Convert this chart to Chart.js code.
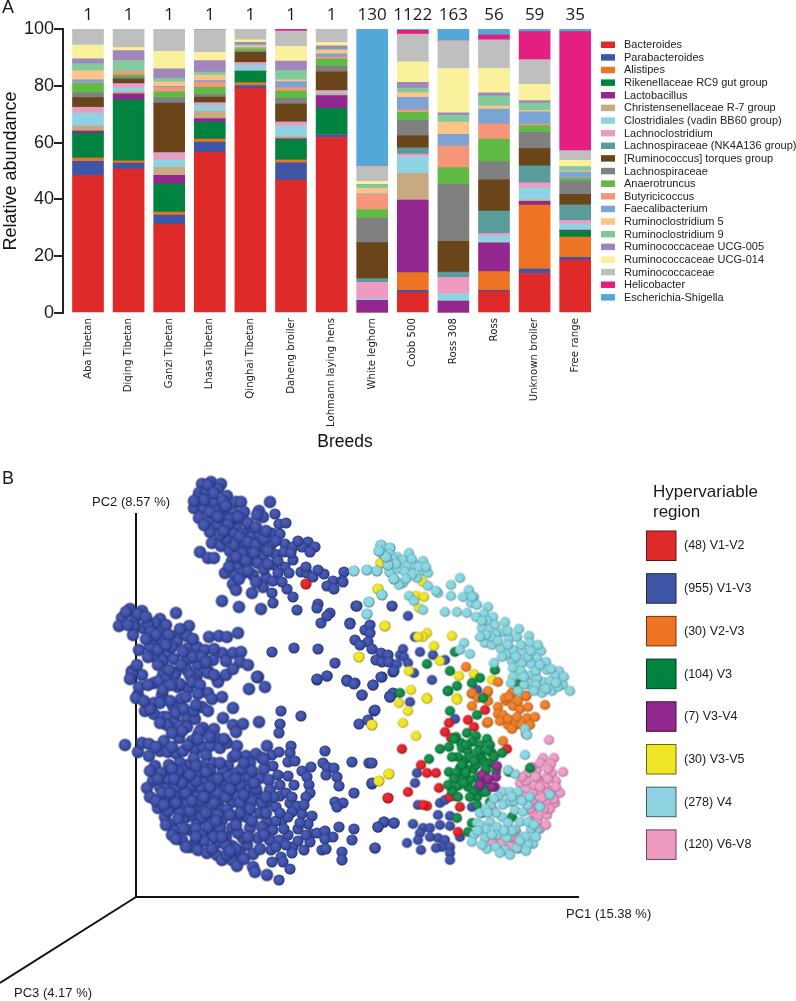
<!DOCTYPE html>
<html><head><meta charset="utf-8">
<style>html,body{margin:0;padding:0;background:#fff}canvas{position:absolute;left:0}#a{top:0}#b{top:470px}</style>
<script src="https://cdn.jsdelivr.net/npm/chart.js@4/dist/chart.umd.min.js"></script>
</head><body>
<canvas id="a" width="796" height="470"></canvas>
<canvas id="b" width="796" height="531"></canvas>
<script>
// ---------- Panel A ----------
const breeds=["Aba Tibetan","Diqing Tibetan","Ganzi Tibetan","Lhasa Tibetan","Qinghai Tibetan","Daheng broiler","Lohmann laying hens","White leghorn","Cobb 500","Ross 308","Ross","Unknown broiler","Free range"];
const counts=[1,1,1,1,1,1,1,130,1122,163,56,59,35];
const Bacteroides=[48.4,50.7,31.2,56.6,79.1,46.8,61.8,0,7.2,0,7.6,13.9,18.7];
const Parabacteroides=[5,2.1,3.3,3.6,1,6.1,.9,0,.8,0,.4,1.6,.9];
const Alistipes=[1.2,.8,1,1,1,1,.1,0,6.2,0,6.6,22.5,7.1];
const RikenellaceaeRC9=[8.7,21.5,9.9,6,4,7.2,9.3,0,0,0,0,0,2.2];
const Lactobacillus=[.8,2.1,3.1,1.3,.1,.3,4.5,4.5,25.6,4.2,10.1,1.3,.3];
const ChristensenellaceaeR7=[1.8,.7,2.8,2.6,.2,.7,.6,0,9.4,0,0,.5,0];
const ClostridialesBB60=[4.5,1.4,2.6,2,1.9,3.8,.4,.5,5.9,2.6,2.5,4.3,2.2];
const Lachnoclostridium=[2,1.4,2.5,.9,.9,1.3,.7,5.8,.9,5.7,.8,1.7,1.2];
const LachnospiraceaeNK=[.1,.1,.2,.1,.1,.1,.1,1.3,2.2,1.9,7.9,6,5.5];
const RuminococcusTorques=[3.4,1.6,17.3,1.9,3.5,6.3,6.5,12.7,4.3,10.8,11,6.1,3.7];
const Lachnospiraceae=[1.6,.7,1.9,1,.4,2,2,8.6,5.3,20.1,6.4,5.7,4.7];
const Anaerotruncus=[3.4,.8,2.1,2.5,.8,2.6,2.5,3,2.9,5.9,7.9,2.4,.9];
const Butyricicoccus=[.2,1,1.6,1.8,.3,1.1,.7,5.4,.8,7.7,5.4,.5,.2];
const Faecalibacterium=[1,.1,.3,.5,.2,2.2,1.2,.2,4.4,4,5.2,4.3,2];
const Ruminoclostridium5=[3.2,.2,1.6,2,.6,.6,1.2,1.9,1.7,4.3,1.1,.6,.4];
const Ruminoclostridium9=[2.5,3.7,1.2,1,.4,3.3,.4,1.3,1.6,2.4,3.5,2.5,1.4];
const UCG005=[1.7,3.5,3.4,4.1,.8,3.3,1.2,.1,2,.9,1.1,.9,.1];
const UCG014=[4.9,1.1,6.1,2.9,.9,5.2,1.2,1.1,7.2,15.6,8.6,5.7,2.3];
const Ruminococcaceae=[5.6,6.5,7.9,8,3.8,5.4,4.7,5.3,9.8,9.8,10.1,8.7,3.4];
const Helicobacter=[0,0,0,.2,0,.7,0,0,1.3,0,1.7,9.9,41.9];
const Escherichia=[0,0,0,0,0,0,0,48.3,.5,4.1,2.1,.9,.9];
const genera=[
["Bacteroides",Bacteroides,"#DE2A28"],["Parabacteroides",Parabacteroides,"#3F56A6"],["Alistipes",Alistipes,"#EE7322"],
["Rikenellaceae RC9 gut group",RikenellaceaeRC9,"#00833F"],["Lactobacillus",Lactobacillus,"#92278F"],
["Christensenellaceae R-7 group",ChristensenellaceaeR7,"#C9A982"],["Clostridiales (vadin BB60 group)",ClostridialesBB60,"#8FD3E2"],
["Lachnoclostridium",Lachnoclostridium,"#EF9AC1"],["Lachnospiraceae (NK4A136 group)",LachnospiraceaeNK,"#5A9C9C"],
["[Ruminococcus] torques group",RuminococcusTorques,"#6B451A"],["Lachnospiraceae",Lachnospiraceae,"#808080"],
["Anaerotruncus",Anaerotruncus,"#60BB46"],["Butyricicoccus",Butyricicoccus,"#F69679"],["Faecalibacterium",Faecalibacterium,"#7BA3D6"],
["Ruminoclostridium 5",Ruminoclostridium5,"#FBC588"],["Ruminoclostridium 9",Ruminoclostridium9,"#82CA9C"],
["Ruminococcaceae UCG-005",UCG005,"#A186BE"],["Ruminococcaceae UCG-014",UCG014,"#F9F19B"],
["Ruminococcaceae",Ruminococcaceae,"#BFBFBF"],["Helicobacter",Helicobacter,"#E31F82"],["Escherichia-Shigella",Escherichia,"#52A8D6"]];

// ---------- Panel B (values in PCoA axis units) ----------
const V1V3=[[66,413],[75,415],[85,413],[63,404],[70,406],[82,408],[62,399],[91,401],[58,389],[68,389],[63,379],[73,376],[78,395],[87,396],[100,395],[105,395],[80,386],[89,387],[97,385],[108,385],[86,379],[97,377],[107,377],[134,395],[123,386],[127,380],[121,382],[139,383],[143,373],[150,374],[82,372],[74,365],[101,367],[114,369],[97,364],[107,363],[116,360],[124,362],[136,364],[144,363],[76,354],[85,351],[94,346],[107,354],[114,345],[124,350],[136,353],[149,353],[157,350],[172,355],[166,350],[179,350],[174,345],[64,345],[72,339],[78,339],[96,336],[104,338],[117,337],[127,340],[139,343],[157,337],[107,332],[101,329],[138,332],[149,330],[89,324],[99,322],[107,324],[117,322],[130,319],[137,316],[142,324],[153,324],[165,325],[171,324],[177,320],[188,323],[208,325],[197,316],[206,316],[191,311],[198,308],[97,313],[100,307],[116,304],[127,310],[136,304],[151,308],[157,300],[137,294],[86,296],[103,290],[125,288],[161,287],[182,293],[181,289],[220,291],[194,284],[191,281],[185,274],[214,274],
[-6,288],[6,286],[40,284],[-14,279],[-17,271],[-1,278],[7,269],[-2,270],[24,278],[26,267],[19,274],[12,273],[-3,262],[53,271],[42,262],[51,261],[73,260],[83,261],[91,260],[102,264],[17,255],[27,255],[14,250],[41,255],[3,247],[32,244],[52,249],[61,250],[69,247],[86,244],[97,244],[105,245],[136,245],[158,249],[182,248],[19,240],[27,236],[51,237],[77,237],[104,235],[112,232],[62,232],[51,227],[72,226],[-4,226],[6,222],[39,224],[27,222],[61,222],[122,220],[199,234],[191,221],[181,217],[211,217],[82,217],
[-4,224],[18,214],[23,216],[31,220],[39,223],[42,210],[52,209],[54,222],[59,217],[72,224],[82,215],[72,204],[26,202],[27,207],[45,198],[2,202],[0,199],[18,194],[37,191],[9,186],[18,183],[27,180],[32,180],[51,179],[59,178],[39,175],[31,172],[44,171],[51,170],[66,190],[72,186],[97,189],[87,179],[97,172],[107,173],[123,175],[100,165],[78,168],[67,169],[62,162],[64,166],[113,208],[121,220],[129,210],[145,186],[165,181],[144,173],[143,164],[181,218],[191,221],[211,216],[219,214],[237,212],[246,220],[226,202],[257,225],[254,200],[238,186],[232,177],[223,173],
[-11,152],[2,145],[6,154],[13,153],[28,156],[43,159],[13,141],[19,131],[24,146],[32,145],[41,143],[47,146],[56,156],[59,147],[67,150],[80,159],[74,151],[84,149],[91,154],[101,151],[97,140],[110,141],[120,143],[126,139],[131,151],[136,142],[143,145],[137,131],[155,151],[154,144],[152,135],[159,136],[114,134],[92,131],[77,134],[66,131],[52,132],[44,134],[33,132],
[33,124],[32,117],[17,116],[11,109],[24,110],[41,109],[55,113],[47,120],[67,115],[77,120],[88,113],[101,124],[112,120],[124,119],[133,117],[152,121],[166,126],[175,130],[171,120],[173,112],[174,104],[187,134],[191,130],[190,122],[198,129],[201,120],[203,111],[189,146],[216,135],[233,134],[236,113],[218,104],
[111,108],[121,103],[134,107],[144,112],[144,101],[97,105],[86,106],[69,105],[57,102],[46,100],[29,98],[22,89],[29,80],[36,90],[47,92],[62,87],[72,99],[84,89],[96,95],[107,90],[124,84],[132,95],[140,90],[154,94],[161,91],[166,83],[176,81],[172,73],[156,85],[146,76],[131,75],[111,80],[101,79],[86,77],[72,77],[61,75],[49,79],[36,72],[39,66],[54,67],[74,67],[84,69],[96,69],[114,69],[122,59],[137,67],[152,62],[162,68],[175,63],[181,64],[174,55],[189,66],[197,60],[203,70],[189,58],[218,68],[216,57],[242,70],[248,75],[258,74],[239,49],[186,47],[190,48],[206,45],[206,37],[199,95],[207,94],[201,90],
[36,62],[46,57],[59,54],[54,50],[62,47],[71,44],[81,54],[96,51],[111,52],[107,59],[81,42],[86,37],[96,37],[101,31],[91,42],[104,44],[117,43],[134,57],[143,57],[135,47],[157,50],[156,44],[168,47],[145,40],[136,35],[147,35],[154,28],[117,30],[119,25],[131,22],[143,17],
[47,127],[61,124],[74,127],[87,127],[41,119],[64,110],[79,110],[104,112],[52,94],[67,90],[77,84],[91,87],[44,84],[56,82],[66,80],[102,100],[109,99],[39,100],[54,110],[82,97],[61,100],
[207,315],[221,291],[256,291],[272,281],[214,273],[229,267],[234,272],[234,264],[232,255],[219,257],[224,252],[236,248],[245,244],[252,242],[240,237],[246,235],[253,235],[261,233],[264,242],[267,248],[268,240],[258,226],[272,234],[278,224],[284,245],[296,217],[297,242],[309,237],[279,260],[245,220],[237,212],[211,216],[218,213],[226,202],[254,201],[257,204],[341,207],
[254,200],[274,195],[239,187],[319,178],[236,134],[281,124],[279,114],[236,114],[282,92],[304,94],[309,97],[302,82],[314,81],[314,71],[304,72],[277,73],[248,75],[258,74],[242,70],[287,69],[294,69],[284,64],[271,54],[282,57],[302,59],[309,57],[306,50],[314,50],[300,49],[285,47],[314,44],[314,37],[324,60],[239,49],[336,90],[371,47],[294,60],
[72,412],[78,404],[90,391],[94,378],[102,380],[112,374],[120,370],[104,360],[112,355],[120,352],[128,358],[132,346],[118,344],[106,344],[98,352],[90,358],[84,362],[100,340],[110,336],[122,334],[128,328],[112,326],[120,315],[132,333],[142,336],[148,345],[155,344],[162,356],[130,366],[140,356],[92,372],[68,397],[74,385],[82,380],[58,396],[68,372],[88,366],[93,330],[103,318],[146,315],[170,330],[182,327],
[-10,285],[-8,272],[2,283],[10,280],[15,265],[20,262],[30,272],[33,262],[36,250],[44,268],[47,245],[57,258],[22,247],[10,258],[30,252],[38,238],[45,232],[57,240],[66,240],[78,248],[90,236],[70,235],[56,215],[44,213],[33,227],[22,232],[12,240],[35,212],[64,212],[90,222],[97,228],[78,222],[50,200],[62,203],[34,196],[24,194],[40,184],[48,188],[58,186],[14,188],[24,174],[60,192],[8,196],[3,210],[-6,218],[12,212],[1,232],[76,198],[86,200],[46,166],[36,164],
[20,150],[36,150],[52,152],[62,158],[74,160],[88,158],[100,142],[70,142],[58,139],[42,126],[25,124],[14,126],[22,118],[30,108],[14,100],[36,128],[60,131],[70,125],[84,134],[92,120],[106,128],[116,126],[128,128],[142,122],[128,138],[108,134],[96,116],[82,104],[74,110],[60,116],[50,104],[40,94],[26,104],[20,96],[32,86],[42,78],[54,86],[64,96],[78,94],[90,100],[104,94],[116,96],[126,94],[138,100],[150,104],[158,112],[114,88],[104,84],[94,82],[82,82],[70,84],[60,68],[48,68],[40,58],[50,50],[66,62],[78,60],[90,60],[102,64],[112,60],[126,70],[140,76],[152,80],[164,74],[148,68],[128,62],[100,48],[90,52],[76,48],[68,56],[108,38],[94,46],[124,48],[140,50],[150,52],[162,56],[170,62],[130,84],[144,84],[120,108],[130,100],[100,72],[86,60],[60,60],[72,70],[56,96],[80,76],[116,76],[30,72],[28,92],[34,104],[46,114],[54,122],[38,118],[68,100],[108,102],[94,108],[82,118],[100,118],[118,114],[156,100],[170,100],[168,92]];
const V4=[[245,352],[249,347],[254,349],[247,343],[254,342],[261,340],[257,337],[273,344],[267,337],[287,336],[218,326],[231,327],[241,326],[254,325],[262,328],[272,331],[279,332],[269,325],[287,326],[292,324],[281,319],[267,314],[263,312],[276,322],[292,311],[324,319],[315,312],[302,304],[315,301],[273,301],[278,296],[327,300],[333,307],[338,300],[335,294],[341,292],[246,302],[233,295],[231,283],[287,287],[309,285],[321,285],[331,284],[352,290],[348,283],[357,280],[351,276],[369,275],[359,272],[346,269],[353,266],[367,265],[373,258],[381,260],[393,261],[349,254],[356,252],[365,248],[394,254],[377,247],[387,245],[405,246],[401,239],[376,236],[395,233],[410,235],[377,229],[411,227],[423,226],[419,221],[394,222],[377,220],[407,215],[427,212],[434,206],[416,206],[406,204],[394,212],[388,212],[328,254],[334,243],[358,234],[324,247],[386,234],[401,219],[422,210],
[389,142],[379,123],[372,127],[367,105],[374,105],[382,105],[414,102],[362,100],[371,95],[367,92],[379,87],[387,85],[366,80],[344,84],[341,74],[354,75],[361,70],[372,74],[384,75],[401,67],[387,60],[371,59],[361,62],[344,72],[338,62],[349,59],[336,55],[351,48],[369,47],[381,49],[397,53],[390,60],[379,67],[389,168],[391,162],
[253,334],[260,333],[283,330],[276,338],[270,318],[252,332],[360,263],[372,266],[385,252],[380,240],[392,240],[400,226],[385,226],[404,232],[414,216],[370,242],[355,260],[375,95],[392,92],[355,92],[360,84],[378,96],[395,68],[360,50],[392,75],[350,68],
[350,88],[358,98],[376,100],[386,96],[394,100],[404,90],[398,72],[392,52],[384,56],[376,66],[368,66],[356,62],[346,52],[342,66],[364,44],[374,42],[390,46],[400,60],[352,84],
[366,240],[372,252],[383,268],[395,246],[402,252],[415,228],[428,220],[420,214],[400,212],[388,220],[375,214],[382,206],[398,206],[410,208],[340,280],[346,276],[362,256],[350,262],[344,260],[336,300],[290,330],[300,306],[258,318],[250,340],[243,346]];
const V6V8=[[413,157],[407,139],[418,139],[415,133],[427,125],[416,124],[391,123],[401,127],[409,119],[402,117],[384,114],[391,107],[397,104],[406,105],[417,107],[411,95],[419,94],[402,92],[397,84],[411,82],[402,79],[394,75],[401,74],[381,57],[374,59],[361,55],[356,55],[366,54],[382,48],[357,87],[409,112],[376,50],[392,97],[412,104],[406,99],
[396,130],[404,134],[412,128],[420,116],[424,104],[418,98],[414,88],[408,88],[398,112],[390,116],[386,120],[404,110],[396,96],[388,100],[394,88],[404,68],[410,72],[380,66],[372,64],[400,120],[412,118],[420,110]];
const V2V3=[[336,203],[351,204],[376,204],[390,201],[370,196],[352,196],[336,191],[377,191],[409,192],[362,190],[384,188],[362,183],[367,182],[391,179],[399,180],[351,174],[372,172],[379,172],[376,168],[390,163],[367,156],[352,175],[330,230],[362,215],[336,204],[352,206],[376,204],[390,201],[369,199],
[373,200],[382,196],[392,190],[364,176],[372,178],[386,172],[381,180],[394,172],[342,199]];
const V3=[[264,204],[312,206],[314,186],[341,182],[331,164],[340,161],[351,158],[325,154],[336,155],[313,150],[304,148],[326,149],[344,152],[354,152],[366,144],[293,138],[329,137],[347,137],[356,144],[354,134],[324,129],[337,128],[313,125],[341,120],[349,125],[322,111],[332,110],[316,106],[351,114],[344,114],[341,100],[341,92],[354,95],[321,79],[336,74],[332,65],[346,84],[373,125],[394,129],[376,80],[334,117],[347,105],[327,120],[319,245],[291,233],[314,226],[321,211],[312,206],[344,219],[336,214],[359,227],[382,213],[347,199],
[320,160],[332,146],[344,142],[334,140],[322,140],[340,132],[330,128],[352,146],[320,124],[350,132],[328,114],[338,106],
[318,158],[330,152],[342,146],[358,140],[316,140],[326,132],[338,136],[350,128],[318,118],[330,124],[342,110],[334,100],[350,105],[322,100],[312,112],[360,126]];
const V1V2=[[170,313],[349,187],[313,174],[332,177],[338,170],[309,165],[315,159],[371,148],[266,148],[285,132],[291,124],[300,124],[272,105],[303,109],[252,99],[319,101],[314,100],[291,91],[324,90],[319,120],[322,65],[287,92]];
const V3V5=[[242,308],[245,334],[287,315],[280,301],[288,300],[283,289],[249,271],[291,264],[287,260],[282,260],[316,261],[298,251],[223,240],[304,236],[273,226],[323,221],[338,223],[356,217],[275,207],[321,199],[291,199],[263,194],[272,186],[267,174],[291,198],[321,197],[280,161],[236,172],[253,123],[243,116]];
const V3V4=[[361,131],[360,120],[359,110],[346,122],[356,110],[344,112],[352,118]];
const PC2axis=[[0,0],[0,384]], PC1axis=[[0,0],[443,0]], PC3axis=[[0,0],[-136,-86]];
const regions=[
["(48) V1-V2","#DE2A28"],["(955) V1-V3","#3F56A6"],["(30) V2-V3","#EE7322"],["(104) V3","#00833F"],
["(7) V3-V4","#92278F"],["(30) V3-V5","#EFE525"],["(278) V4","#8FD3E2"],["(120) V6-V8","#EF9AC1"]];
// back to front: earlier in this list is drawn first
const layers=[[V1V3,"#3A4DA8"],[V1V2,"#E01F26"],[V3V5,"#EFE41F"],[V6V8,"#EE9AC6"],[V2V3,"#EE7B23"],[V3,"#0B8A44"],[V3V4,"#92278F"],[V4,"#84D5E0"]];

const SANS='"Liberation Sans", Arial, sans-serif';
function shade(hex,f){const n=parseInt(hex.slice(1),16);const c=[n>>16,(n>>8)&255,n&255].map(v=>Math.round(f<0?v*(1+f):v+(255-v)*f));return `rgb(${c[0]},${c[1]},${c[2]})`;}
const sprites={};
function sprite(col,r){const k=col+r;if(sprites[k])return sprites[k];const c=document.createElement('canvas');const s=Math.ceil(2*r+2);c.width=c.height=s;const g=c.getContext('2d');const m=s/2;
 const gr=g.createRadialGradient(m-r*.3,m-r*.35,0,m,m,r*1.05);gr.addColorStop(0,shade(col,.12));gr.addColorStop(.7,col);gr.addColorStop(.95,shade(col,-.35));gr.addColorStop(1,shade(col,-.5));
 g.fillStyle=gr;g.beginPath();g.arc(m,m,r,0,Math.PI*2);g.fill();return sprites[k]=c;}
function sphereR(x){return x<135?6.2:(x<260?5.6:5.1);}

const panelA={id:'panelA',afterDraw(ch){const c=ch.ctx,X=ch.scales.x;c.save();c.textBaseline='middle';c.textAlign='center';c.fillStyle='#1a1a1a';
 c.font='17px "Open Sans", sans-serif';counts.forEach((t,i)=>c.fillText(String(t),X.getPixelForValue(i),15));
 c.textAlign='left';c.font='18px '+SANS;c.fillText('A',2,8);
 c.font='11px '+SANS;ch.data.datasets.forEach((d,i)=>{const y=44.7+i*12.63;c.fillStyle=d.backgroundColor;c.fillRect(601,y-3.2,14,6.5);c.fillStyle='#222';c.fillText(d.label,624,y+.5);});
 c.restore();}};
new Chart(document.getElementById('a'),{type:'bar',
 data:{datasets:genera.map(([label,vals,col])=>({label,backgroundColor:col,data:vals.map((y,i)=>({x:i,y})),barThickness:31}))},
 plugins:[panelA],
 options:{responsive:false,animation:false,events:[],layout:{padding:{top:29,right:169}},
  plugins:{legend:{display:false},tooltip:{enabled:false}},
  scales:{
   x:{type:'linear',stacked:true,offset:false,min:-0.616,max:13.276,grid:{display:false,offset:false},border:{display:false},
      afterFit(s){s.height=157;},
      afterBuildTicks(s){s.ticks=breeds.map((_,i)=>({value:i}));},
      ticks:{autoSkip:false,maxRotation:90,minRotation:90,padding:-3,color:'#222',font:{family:'"DejaVu Sans"',size:10.2},callback:v=>breeds[v]},
      title:{display:true,text:'Breeds',color:'#111',font:{family:SANS,size:17.5},padding:{top:0,bottom:17}}},
   y:{stacked:true,min:0,max:100,afterFit(s){s.width=63;},
      border:{display:true,color:'#222',width:2},
      grid:{drawOnChartArea:false,drawTicks:true,tickLength:9,color:'#222',lineWidth:2},
      ticks:{stepSize:20,padding:0,color:'#1a1a1a',font:{family:SANS,size:18}},
      title:{display:true,text:'Relative abundance',color:'#111',font:{family:SANS,size:18},padding:{top:0,bottom:0}}}
  }}});

const panelB={id:'panelB',afterDraw(ch){const c=ch.ctx;c.save();c.textBaseline='middle';c.textAlign='left';c.fillStyle='#1a1a1a';
 c.font='18px '+SANS;c.fillText('B',2,9);
 const X=ch.scales.x,Y=ch.scales.y;c.font='13px '+SANS;
 c.fillText('PC2 (8.57 %)',X.getPixelForValue(-44),Y.getPixelForValue(395));
 c.fillText('PC1 (15.38 %)',X.getPixelForValue(430),Y.getPixelForValue(-17));
 c.fillText('PC3 (4.17 %)',X.getPixelForValue(-122),Y.getPixelForValue(-96));
 c.font='17px '+SANS;c.fillText('Hypervariable',653,22);c.fillText('region',653,42);
 c.font='12.5px '+SANS;regions.forEach(([t,col],i)=>{const y=61+i*42.7;c.fillStyle=col;c.strokeStyle=shade(col,-.55);c.lineWidth=1;c.fillRect(646.5,y,29.5,29.5);c.strokeRect(646.5,y,29.5,29.5);c.fillStyle='#1a1a1a';c.fillText(t,684,y+15);});
 c.restore();}};
const axisDs=d=>({data:d,showLine:true,borderColor:'#111',borderWidth:2,pointRadius:0,order:100});
new Chart(document.getElementById('b'),{type:'scatter',
 data:{datasets:[axisDs(PC2axis),axisDs(PC1axis),axisDs(PC3axis),...layers.map(([d,col],i)=>({data:d,order:layers.length-i,backgroundColor:col,
   pointRadius:5,pointStyle:ctx=>sprite(col,sphereR(ctx.raw?ctx.raw[0]:0))}))]},
 plugins:[panelB],
 options:{responsive:false,animation:false,events:[],layout:{padding:0,autoPadding:false},
  plugins:{legend:{display:false},tooltip:{enabled:false}},
  scales:{x:{type:'linear',display:false,min:-136,max:660},y:{type:'linear',display:false,min:-104,max:427}}}});
</script>
</body></html>
